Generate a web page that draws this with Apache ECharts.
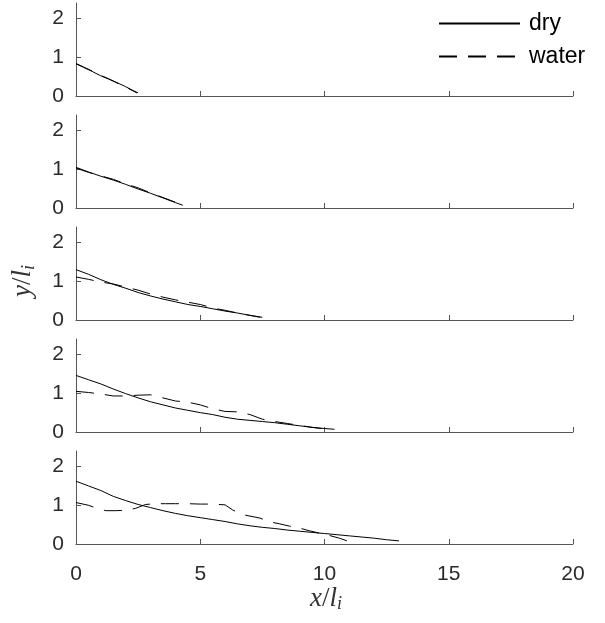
<!DOCTYPE html>
<html>
<head>
<meta charset="utf-8">
<script src="https://cdn.jsdelivr.net/npm/echarts@6/dist/echarts.min.js"></script>
<style>
  html, body { margin: 0; padding: 0; background: #fff; }
  #chart { width: 605px; height: 623px; }
</style>
</head>
<body>
<div id="chart"></div>
<script>
// Profiles y/l_i against x/l_i at five successive stages, dry vs. water
const xTicks = [0, 5, 10, 15, 20];
const yTicks = [0, 1, 2];

const dry1 = [[0,0.83],[0.3,0.74],[0.6,0.65],[1,0.52],[1.3,0.44],[1.6,0.36],[2,0.24],[2.3,0.14],[2.5,0.08]];
const water1 = [[0,0.84],[0.3,0.75],[0.6,0.66],[1,0.53],[1.3,0.45],[1.6,0.35],[2,0.23],[2.3,0.13],[2.45,0.08]];

const dry2 = [[0,1.05],[0.5,0.93],[1,0.82],[1.5,0.72],[2,0.61],[2.5,0.49],[3,0.38],[3.5,0.26],[4,0.14],[4.3,0.07]];
const water2 = [[0,1.03],[0.5,0.92],[1,0.83],[1.5,0.74],[2,0.62],[2.5,0.52],[3,0.39],[3.5,0.27],[4,0.15],[4.2,0.08]];

const dry3 = [[0,1.30],[0.5,1.18],[1,1.04],[1.5,0.92],[2,0.82],[2.5,0.71],[3,0.62],[3.5,0.54],[4,0.47],[4.5,0.40],[5,0.35],[5.5,0.29],[6,0.23],[6.5,0.18],[7,0.12],[7.5,0.07]];
const water3 = [[0,1.11],[0.5,1.05],[1,0.98],[1.5,0.93],[2,0.85],[2.5,0.77],[3,0.67],[3.5,0.59],[4,0.52],[4.5,0.46],[5,0.40],[5.5,0.31],[6,0.25],[6.5,0.18],[7,0.12],[7.4,0.07]];

const dry4 = [[0,1.46],[0.5,1.35],[1,1.24],[1.5,1.11],[2,0.99],[2.5,0.88],[3,0.78],[3.5,0.70],[4,0.62],[4.5,0.56],[5,0.50],[5.5,0.45],[6,0.38],[6.5,0.33],[7,0.30],[7.5,0.27],[8,0.24],[8.5,0.20],[9,0.16],[9.5,0.12],[10,0.09],[10.4,0.07]];
const water4 = [[0,1.05],[0.5,1.02],[1,0.98],[1.5,0.93],[2,0.93],[2.5,0.95],[3,0.96],[3.5,0.88],[4,0.80],[4.5,0.77],[5,0.70],[5.5,0.60],[6,0.53],[6.5,0.52],[7,0.45],[7.5,0.33],[8,0.27],[8.5,0.22],[9,0.17],[9.5,0.12],[10,0.08]];

const dry5 = [[0,1.62],[0.5,1.50],[1,1.38],[1.5,1.23],[2,1.12],[2.5,1.02],[3,0.94],[3.5,0.86],[4,0.79],[4.5,0.73],[5,0.68],[5.5,0.63],[6,0.58],[6.5,0.52],[7,0.47],[7.5,0.43],[8,0.40],[8.5,0.36],[9,0.33],[9.5,0.30],[10,0.27],[10.5,0.24],[11,0.21],[11.5,0.18],[12,0.15],[12.5,0.11],[13,0.08]];
const water5 = [[0,1.07],[0.5,1.00],[0.8,0.93],[1.2,0.86],[1.6,0.86],[2,0.87],[2.4,0.92],[2.8,1.02],[3.2,1.04],[3.6,1.04],[4,1.04],[4.5,1.04],[5,1.03],[5.5,1.03],[6,1.01],[6.3,0.88],[6.7,0.76],[7,0.72],[7.4,0.67],[7.8,0.57],[8.2,0.52],[8.6,0.46],[9,0.41],[9.4,0.34],[9.8,0.28],[10.2,0.22],[10.6,0.15],[11,0.06]];

const dryRuns = [dry1, dry2, dry3, dry4, dry5];
const waterRuns = [water1, water2, water3, water4, water5];

const AXIS_COLOR = '#555';
const TEXT_COLOR = '#2a2a2a';
const FONT = 'Liberation Sans, Arial, sans-serif';
const SERIF = 'Liberation Serif, serif';
const nPanels = 5;

const grids = [], xAxes = [], yAxes = [], series = [];
for (let k = 0; k < nPanels; k++) {
  const last = k === nPanels - 1;
  grids.push({ left: 76, width: 497, top: 3 + 112 * k, height: 93 });
  xAxes.push({
    type: 'value', gridIndex: k, min: 0, max: 20, interval: 5,
    axisLine: { show: true, onZero: false, lineStyle: { color: AXIS_COLOR, width: 1 } },
    axisTick: { show: true, inside: true, length: 5, lineStyle: { color: AXIS_COLOR }, customValues: xTicks },
    axisLabel: { show: last, margin: 20, fontSize: 21, color: TEXT_COLOR, fontFamily: FONT, customValues: xTicks },
    splitLine: { show: false }
  });
  yAxes.push({
    type: 'value', gridIndex: k, min: 0, max: 2.4,
    axisLine: { show: true, lineStyle: { color: AXIS_COLOR, width: 1 } },
    axisTick: { show: true, inside: true, length: 5, lineStyle: { color: AXIS_COLOR }, customValues: yTicks },
    axisLabel: { margin: 12, fontSize: 21, color: TEXT_COLOR, fontFamily: FONT, customValues: yTicks },
    splitLine: { show: false }
  });
  series.push({
    name: 'dry', type: 'line', xAxisIndex: k, yAxisIndex: k, data: dryRuns[k],
    showSymbol: false, symbol: 'none', animation: false,
    itemStyle: { color: '#000' },
    lineStyle: { color: '#000', width: 1 }
  });
  series.push({
    name: 'water', type: 'line', xAxisIndex: k, yAxisIndex: k, data: waterRuns[k],
    showSymbol: false, symbol: 'none', animation: false,
    itemStyle: { color: '#000' },
    lineStyle: { color: '#000', width: 1, type: [18, 11] }
  });
}

const titleRich = {
  i: { fontFamily: SERIF, fontStyle: 'italic', fontSize: 27, fill: '#333' },
  s: { fontFamily: SERIF, fontStyle: 'italic', fontSize: 18, fill: '#333', padding: [12, 0, 0, 0] }
};

const chart = echarts.init(document.getElementById('chart'), null, { renderer: 'canvas' });
chart.setOption({
  backgroundColor: '#fff',
  animation: false,
  grid: grids,
  xAxis: xAxes,
  yAxis: yAxes,
  series: series,
  legend: {
    data: ['dry', 'water'],
    orient: 'vertical', left: 438, top: 12, padding: 0,
    itemWidth: 81, itemHeight: 16, itemGap: 10,
    selectedMode: false,
    itemStyle: { opacity: 0 },
    textStyle: { fontSize: 23, lineHeight: 16, color: '#000', fontFamily: FONT, padding: [0, 0, 0, 4] }
  },
  graphic: [
    {
      type: 'text', left: 310, top: 585,
      style: { text: '{i|x}/{i|l}{s|i}', rich: titleRich, fontFamily: SERIF, fontSize: 27, fill: '#333' }
    },
    {
      type: 'text', x: 8, y: 297, rotation: Math.PI / 2,
      style: { text: '{i|y}/{i|l}{s|i}', rich: titleRich, fontFamily: SERIF, fontSize: 27, fill: '#333' }
    }
  ]
});
</script>
</body>
</html>
